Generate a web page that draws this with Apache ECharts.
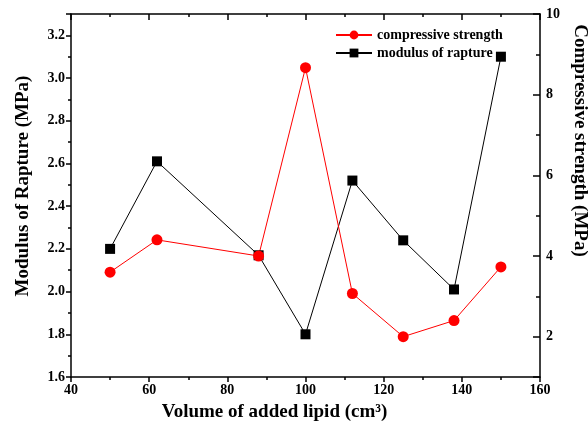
<!DOCTYPE html>
<html>
<head>
<meta charset="utf-8">
<script src="https://cdn.jsdelivr.net/npm/echarts@6/dist/echarts.min.js"></script>
<style>html,body{margin:0;padding:0;background:#fff;}#c{width:588px;height:427px;}</style>
</head>
<body>
<div id="c"></div>
<script>
// Volume of added lipid (cm3)
var volumes = [50, 62, 88, 100, 112, 125, 138, 150];
// Compressive strength (MPa) - right axis
var compressive = [3.60, 4.40, 4.00, 8.67, 3.07, 2.00, 2.40, 3.73];
// Modulus of rapture (MPa) - left axis
var modulus = [2.20, 2.61, 2.17, 1.80, 2.52, 2.24, 2.01, 3.10];
var seriesNames = ['compressive strength', 'modulus of rapture'];

function pairs(xs, ys) { return xs.map(function (x, i) { return [x, ys[i]]; }); }

var font = 'Liberation Serif';
var chart = echarts.init(document.getElementById('c'), null, {renderer: 'canvas'});
var lbl = {fontFamily: font, fontWeight: 'bold', fontSize: 14, color: '#000'};
function nameStyle(pad) {
  return {fontFamily: font, fontWeight: 'bold', fontSize: 19, color: '#000', padding: pad};
}
chart.setOption({
  animation: false,
  backgroundColor: '#fff',
  grid: {left: 71, right: 48, top: 14, bottom: 50, containLabel: false, outerBoundsMode: 'none'},
  legend: {
    orient: 'vertical', left: 335, top: 28, itemWidth: 36, itemHeight: 11, itemGap: 4, padding: 0,
    data: seriesNames,
    textStyle: {fontFamily: font, fontWeight: 'bold', fontSize: 14, color: '#000'}
  },
  xAxis: [{
    type: 'value', min: 40, max: 160, interval: 20,
    name: 'Volume of added lipid (cm³)', nameLocation: 'middle', nameGap: 26,
    nameTextStyle: nameStyle([0, 62, 0, 0]),
    axisLine: {lineStyle: {color: '#000', width: 1.5}},
    axisTick: {inside: false, length: 5, lineStyle: {color: '#000', width: 1.5}},
    minorTick: {show: true, splitNumber: 2, length: 3, lineStyle: {color: '#000', width: 1.5}},
    axisLabel: Object.assign({margin: 6}, lbl),
    splitLine: {show: false}
  }, {
    type: 'value', min: 40, max: 160, interval: 20, position: 'top',
    axisLine: {lineStyle: {color: '#000', width: 1.5}},
    axisTick: {inside: true, length: 6, lineStyle: {color: '#000', width: 1.5}},
    minorTick: {show: true, splitNumber: 2, length: 3, lineStyle: {color: '#000', width: 1.5}},
    axisLabel: {show: false},
    splitLine: {show: false}
  }],
  yAxis: [{
    type: 'value', min: 1.6, max: 3.3, interval: 0.2, position: 'left',
    name: 'Modulus of Rapture (MPa)', nameLocation: 'middle', nameGap: 38, nameRotate: 90,
    nameTextStyle: nameStyle([0, 0, 0, 19]),
    axisLine: {show: true, lineStyle: {color: '#000', width: 1.5}},
    axisTick: {show: true, inside: false, length: 5, lineStyle: {color: '#000', width: 1.5}},
    minorTick: {show: true, splitNumber: 2, length: 3, lineStyle: {color: '#000', width: 1.5}},
    axisLabel: Object.assign({margin: 6, showMaxLabel: false, formatter: function (v) { return v.toFixed(1); }}, lbl),
    splitLine: {show: false}
  }, {
    type: 'value', min: 1, max: 10, splitNumber: 5, position: 'right',
    name: 'Compressive strength (MPa)', nameLocation: 'middle', nameGap: 26, nameRotate: -90,
    nameTextStyle: nameStyle([0, 110, 0, 0]),
    axisLine: {show: true, lineStyle: {color: '#000', width: 1.5}},
    axisTick: {show: true, inside: true, length: 7, lineStyle: {color: '#000', width: 1.5}},
    minorTick: {show: true, splitNumber: 2, length: 4, lineStyle: {color: '#000', width: 1.5}},
    axisLabel: Object.assign({margin: 6, showMinLabel: false}, lbl),
    splitLine: {show: false}
  }],
  series: [{
    name: seriesNames[1], type: 'line', xAxisIndex: 0, yAxisIndex: 0,
    data: pairs(volumes, modulus),
    symbol: 'rect', symbolSize: 10,
    lineStyle: {color: '#000', width: 1},
    itemStyle: {color: '#000'}
  }, {
    name: seriesNames[0], type: 'line', xAxisIndex: 0, yAxisIndex: 1,
    data: pairs(volumes, compressive),
    symbol: 'circle', symbolSize: 11,
    lineStyle: {color: '#ff0000', width: 1},
    itemStyle: {color: '#ff0000'}
  }]
});
</script>
</body>
</html>
